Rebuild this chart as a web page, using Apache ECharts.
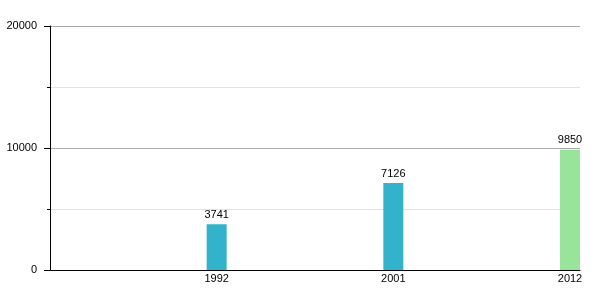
<!DOCTYPE html>
<html><head><meta charset="utf-8">
<script src="https://cdn.jsdelivr.net/npm/echarts@6/dist/echarts.min.js"></script>
<style>html,body{margin:0;padding:0;background:#fff}#c{width:600px;height:300px}</style>
</head><body><div id="c"></div>
<script>
const categories = ['1992', '2001', '2012'];
const values = [3741, 7126, 9850];
const barColors = ['#33b3cb', '#33b3cb', '#98e49a'];
const yTicks = [0, 10000, 20000];

const chart = echarts.init(document.getElementById('c'), null, {renderer: 'canvas'});
const font = 'Liberation Sans, Arial, Helvetica, sans-serif';
chart.setOption({
  animation: false,
  grid: {left: 50, right: 20, top: 26, bottom: 30, containLabel: false},
  xAxis: {
    type: 'category', data: categories, boundaryGap: true,
    axisLine: {show: true, lineStyle: {color: '#000', width: 1}},
    axisTick: {show: false},
    axisLabel: {show: false},
    splitLine: {show: false}
  },
  yAxis: {
    type: 'value', min: yTicks[0], max: yTicks[yTicks.length - 1], interval: yTicks[1] - yTicks[0],
    axisLine: {show: true, lineStyle: {color: '#000', width: 1}},
    axisTick: {show: true, length: 6, lineStyle: {color: '#000'}},
    minorTick: {show: true, splitNumber: 2, length: 3, lineStyle: {color: '#000'}},
    axisLabel: {color: '#000', fontSize: 11, fontFamily: font, margin: 13, formatter: v => String(v)},
    splitLine: {show: true, lineStyle: {color: '#aaaaaa', width: 1}},
    minorSplitLine: {show: true, lineStyle: {color: '#e2e2e2', width: 1}}
  },
  series: [
    {type: 'bar', data: values.map(() => 0), barWidth: '88.68%', barGap: 0,
     itemStyle: {color: 'rgba(0,0,0,0)'}, silent: true},
    {type: 'bar', stack: 's', barWidth: 20, barGap: 0, data: values.map(() => 0),
     itemStyle: {color: 'rgba(0,0,0,0)'}, silent: true,
     label: {show: true, position: 'bottom', distance: 3, formatter: '{b}', color: '#000', fontSize: 11, fontFamily: font}},
    {type: 'bar', stack: 's', barWidth: 20, barGap: 0,
     data: values.map((v, i) => ({value: v, itemStyle: {color: barColors[i]}})),
     label: {show: true, position: 'top', distance: 4, color: '#000', fontSize: 11, fontFamily: font}}
  ]
});
</script></body></html>
